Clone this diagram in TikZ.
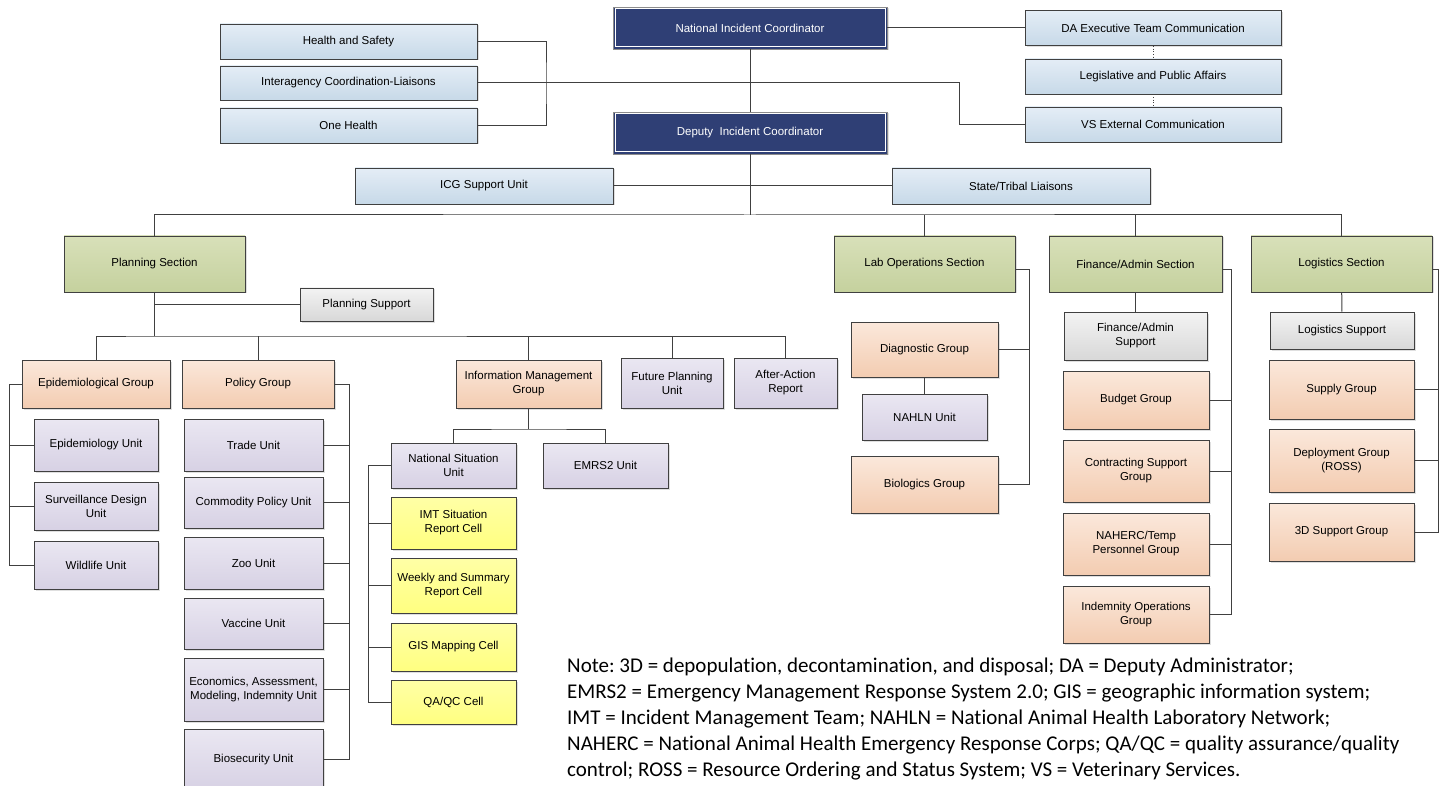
\documentclass[tikz,border=0pt]{standalone}
\usepackage{fontspec}
\setmainfont{Liberation Sans}
\newfontfamily\notefont[Ligatures=NoCommon]{Carlito}
\usepackage{xcolor}
\usetikzlibrary{shapes.geometric, arrows, positioning, calc, shadows}

\definecolor{navyFill}{HTML}{2F3F75}
\definecolor{blueTop}{HTML}{E4EDF6}
\definecolor{blueBot}{HTML}{C7D9E8}
\definecolor{greenTop}{HTML}{D8E0B9}
\definecolor{greenBot}{HTML}{C5D19E}
\definecolor{peachTop}{HTML}{FBE8DB}
\definecolor{peachBot}{HTML}{F3CCB1}
\definecolor{lilacTop}{HTML}{EAE7F2}
\definecolor{lilacBot}{HTML}{D7D1E4}
\definecolor{greyTop}{HTML}{F3F3F3}
\definecolor{greyBot}{HTML}{D8D8D8}
\definecolor{cellTop}{HTML}{FFFFA6}
\definecolor{cellBot}{HTML}{FFFF80}
\definecolor{lineGrey}{HTML}{404040}

\tikzstyle{orgBox} = [rectangle, draw=lineGrey, line width=0.7pt, align=center,
                      font=\fontsize{11.5}{14}\selectfont, inner sep=1pt,
                      drop shadow={shadow xshift=1.5pt, shadow yshift=-1.5pt, opacity=0.25}]
\tikzstyle{navyBox} = [orgBox, fill=navyFill, text=white, draw=black!45,
                       path picture={\draw [white, line width=1pt]
                         ([shift={(2pt,-2pt)}]path picture bounding box.north west) rectangle
                         ([shift={(-2pt,2pt)}]path picture bounding box.south east);}]
\tikzstyle{blueBox} = [orgBox, top color=blueTop, bottom color=blueBot]
\tikzstyle{sectionBox} = [orgBox, top color=greenTop, bottom color=greenBot]
\tikzstyle{groupBox} = [orgBox, top color=peachTop, bottom color=peachBot]
\tikzstyle{unitBox} = [orgBox, top color=lilacTop, bottom color=lilacBot]
\tikzstyle{supportBox} = [orgBox, top color=greyTop, bottom color=greyBot]
\tikzstyle{cellBox} = [orgBox, top color=cellTop, bottom color=cellBot]
\tikzstyle{link} = [draw=lineGrey, line width=1pt]
\tikzstyle{dotLink} = [draw=lineGrey, line width=0.7pt, dotted]

\begin{document}
\begin{tikzpicture}[x=1pt, y=-1pt]
\useasboundingbox (0,0) rectangle (1440,786);
\fill [white] (0,0) rectangle (1440,786);

% command staff
\node (nic) [navyBox, minimum width=274pt, minimum height=42pt] at (750,28) {National Incident Coordinator};
\node (dic) [navyBox, minimum width=274pt, minimum height=42pt] at (750,133) {Deputy\ \ Incident Coordinator};
\node (hs) [blueBox, minimum width=257pt, minimum height=35pt] at (348.5,41.5) {Health and Safety};
\node (iac) [blueBox, minimum width=257pt, minimum height=34pt] at (348.5,83) {Interagency Coordination-Liaisons};
\node (oh) [blueBox, minimum width=257pt, minimum height=35pt] at (348.5,125.5) {One Health};
\node (dae) [blueBox, minimum width=256pt, minimum height=35pt] at (1153,28) {DA Executive Team Communication};
\node (lpa) [blueBox, minimum width=256pt, minimum height=35pt] at (1153,76.5) {Legislative and Public Affairs};
\node (vse) [blueBox, minimum width=256pt, minimum height=35pt] at (1153,124.5) {VS External Communication};
\node (icg) [blueBox, minimum width=258pt, minimum height=36pt] at (484,186) {ICG Support Unit};
\node (stl) [blueBox, minimum width=258pt, minimum height=36pt] at (1021,186) {State/Tribal Liaisons};

% sections
\node (ps) [sectionBox, minimum width=181pt, minimum height=56pt] at (154.5,264) {Planning Section};
\node (los) [sectionBox, minimum width=181pt, minimum height=56pt] at (924.5,264) {Lab Operations Section};
\node (fas) [sectionBox, minimum width=173pt, minimum height=56pt] at (1135.5,264) {Finance/Admin Section};
\node (lgs) [sectionBox, minimum width=181pt, minimum height=56pt] at (1341.5,264) {Logistics Section};

% planning
\node (psup) [supportBox, minimum width=133pt, minimum height=33pt] at (366.5,304.5) {Planning Support};
\node (epg) [groupBox, minimum width=148pt, minimum height=48pt] at (96,384) {Epidemiological Group};
\node (pog) [groupBox, minimum width=152pt, minimum height=48pt] at (258,384) {Policy Group};
\node (img) [groupBox, minimum width=145pt, minimum height=48pt] at (528.5,384) {Information Management\\Group};
\node (fpu) [unitBox, minimum width=102pt, minimum height=50pt] at (672,383) {Future Planning\\Unit};
\node (aar) [unitBox, minimum width=103pt, minimum height=50pt] at (785.5,383) {After-Action\\Report};

\node (epu) [unitBox, minimum width=124pt, minimum height=52pt] at (96,445) {Epidemiology Unit};
\node (sdu) [unitBox, minimum width=124pt, minimum height=48pt] at (96,506) {Surveillance Design\\Unit};
\node (wlu) [unitBox, minimum width=124pt, minimum height=48pt] at (96,565) {Wildlife Unit};

\node (tru) [unitBox, minimum width=139pt, minimum height=52pt] at (253.5,445) {Trade Unit};
\node (cpu) [unitBox, minimum width=139pt, minimum height=51pt] at (253.5,502.5) {Commodity Policy Unit};
\node (zou) [unitBox, minimum width=139pt, minimum height=52pt] at (253.5,563) {Zoo Unit};
\node (vau) [unitBox, minimum width=139pt, minimum height=51pt] at (253.5,623.5) {Vaccine Unit};
\node (eau) [unitBox, minimum width=139pt, minimum height=63pt] at (253.5,689.5) {Economics, Assessment,\\Modeling, Indemnity Unit};
\node (bsu) [unitBox, minimum width=139pt, minimum height=61pt] at (253.5,759.5) {Biosecurity Unit};

\node (nsu) [unitBox, minimum width=125pt, minimum height=45pt] at (453.5,465.5) {National Situation\\Unit};
\node (emu) [unitBox, minimum width=125pt, minimum height=45pt] at (605.5,465.5) {EMRS2 Unit};
\node (imt) [cellBox, minimum width=125pt, minimum height=52pt] at (453.5,523) {IMT Situation\\Report Cell};
\node (wsr) [cellBox, minimum width=125pt, minimum height=55pt] at (453.5,585.5) {Weekly and Summary\\Report Cell};
\node (gis) [cellBox, minimum width=125pt, minimum height=48pt] at (453.5,647) {GIS Mapping Cell};
\node (qac) [cellBox, minimum width=125pt, minimum height=44pt] at (453.5,702) {QA/QC Cell};

% lab operations
\node (dig) [groupBox, minimum width=147pt, minimum height=55pt] at (924.5,349.5) {Diagnostic Group};
\node (nah) [unitBox, minimum width=125pt, minimum height=46pt] at (924.5,417) {NAHLN Unit};
\node (big) [groupBox, minimum width=147pt, minimum height=57pt] at (924.5,484.5) {Biologics Group};

% finance/admin
\node (fsu) [supportBox, minimum width=143pt, minimum height=48pt] at (1135.5,336) {Finance/Admin\\Support};
\node (bug) [groupBox, minimum width=146pt, minimum height=58pt] at (1136,400) {Budget Group};
\node (csg) [groupBox, minimum width=146pt, minimum height=62pt] at (1136,471) {Contracting Support\\Group};
\node (nag) [groupBox, minimum width=146pt, minimum height=62pt] at (1136,544) {NAHERC/Temp\\Personnel Group};
\node (iog) [groupBox, minimum width=146pt, minimum height=57pt] at (1136,614.5) {Indemnity Operations\\Group};

% logistics
\node (lsu) [supportBox, minimum width=144pt, minimum height=37pt] at (1342,330.5) {Logistics Support};
\node (sug) [groupBox, minimum width=145pt, minimum height=59pt] at (1341.5,389.5) {Supply Group};
\node (deg) [groupBox, minimum width=145pt, minimum height=63pt] at (1341.5,460.5) {Deployment Group\\(ROSS)};
\node (tdg) [groupBox, minimum width=145pt, minimum height=58pt] at (1341.5,532) {3D Support Group};

% bends
\coordinate (hsBus) at (546,83);
\coordinate (vsBend) at (959,83);
\coordinate (topBar) at (750,215);
\coordinate (psBar) at (154.5,336);
\coordinate (epiBus) at (9,384);
\coordinate (polBus) at (349,384);
\coordinate (imgBar) at (528.5,429);
\coordinate (nsuBus) at (368,465.5);
\coordinate (labBus) at (1029,270);
\coordinate (finBus) at (1231,270);
\coordinate (logBus) at (1438,270);

% links
\draw [link] (nic) -- (dic);
\draw [link] (nic.east) -- (dae.west);
\draw [dotLink] (dae) -- (lpa);
\draw [dotLink] (lpa) -- (vse);
\draw [link] (hs.east) -| (hsBus) |- (oh.east);
\draw [link] (iac.east) -- (vsBend) |- (vse.west);
\draw [link] (icg.east) -- (stl.west);
\draw [link] (dic) -- (topBar);
\draw [link] (ps.north) |- (topBar) -| (lgs.north);
\draw [link] (los.north) -- (los.north |- topBar);
\draw [link] (fas.north) -- (fas.north |- topBar);

\draw [link] (ps.south) -- (psBar);
\draw [link] (psup.west) -- (psup.west -| ps.south);
\draw [link] (epg.north) |- (psBar) -| (aar.north);
\foreach \n in {pog, img, fpu}
    \draw [link] (\n.north) -- (\n.north |- psBar);
\draw [link] (epg.west) -- (epiBus) |- (wlu.west);
\foreach \n in {epu, sdu}
    \draw [link] (\n.west) -- (\n.west -| epiBus);
\draw [link] (pog.east) -- (polBus) |- (bsu.east);
\foreach \n in {tru, cpu, zou, vau, eau}
    \draw [link] (\n.east) -- (\n.east -| polBus);
\draw [link] (img.south) -- (imgBar);
\draw [link] (nsu.north) |- (imgBar) -| (emu.north);
\draw [link] (nsu.west) -- (nsuBus) |- (qac.west);
\foreach \n in {imt, wsr, gis}
    \draw [link] (\n.west) -- (\n.west -| nsuBus);

\draw [link] (dig) -- (nah);
\draw [link] (los.east |- labBus) -- (labBus) |- (big.east);
\draw [link] (dig.east) -- (dig.east -| labBus);
\draw [link] (fas) -- (fsu);
\draw [link] (fas.east |- finBus) -- (finBus) |- (iog.east);
\foreach \n in {bug, csg, nag}
    \draw [link] (\n.east) -- (\n.east -| finBus);
\draw [link] (lgs) -- (lsu);
\draw [link] (lgs.east |- logBus) -- (logBus) |- (tdg.east);
\foreach \n in {sug, deg}
    \draw [link] (\n.east) -- (\n.east -| logBus);

% note
\node (note) [anchor=north west, align=left, inner sep=0pt, font=\notefont\fontsize{21}{26}\selectfont\frenchspacing] at (567,658)
  {Note: 3D = depopulation, decontamination, and disposal; DA = Deputy Administrator;\\
   EMRS2 = Emergency Management Response System 2.0; GIS = geographic information system;\\
   IMT = Incident Management Team; NAHLN = National Animal Health Laboratory Network;\\
   NAHERC = National Animal Health Emergency Response Corps; QA/QC = quality assurance/quality\\
   control; ROSS = Resource Ordering and Status System; VS = Veterinary Services.};
\end{tikzpicture}
\end{document}
